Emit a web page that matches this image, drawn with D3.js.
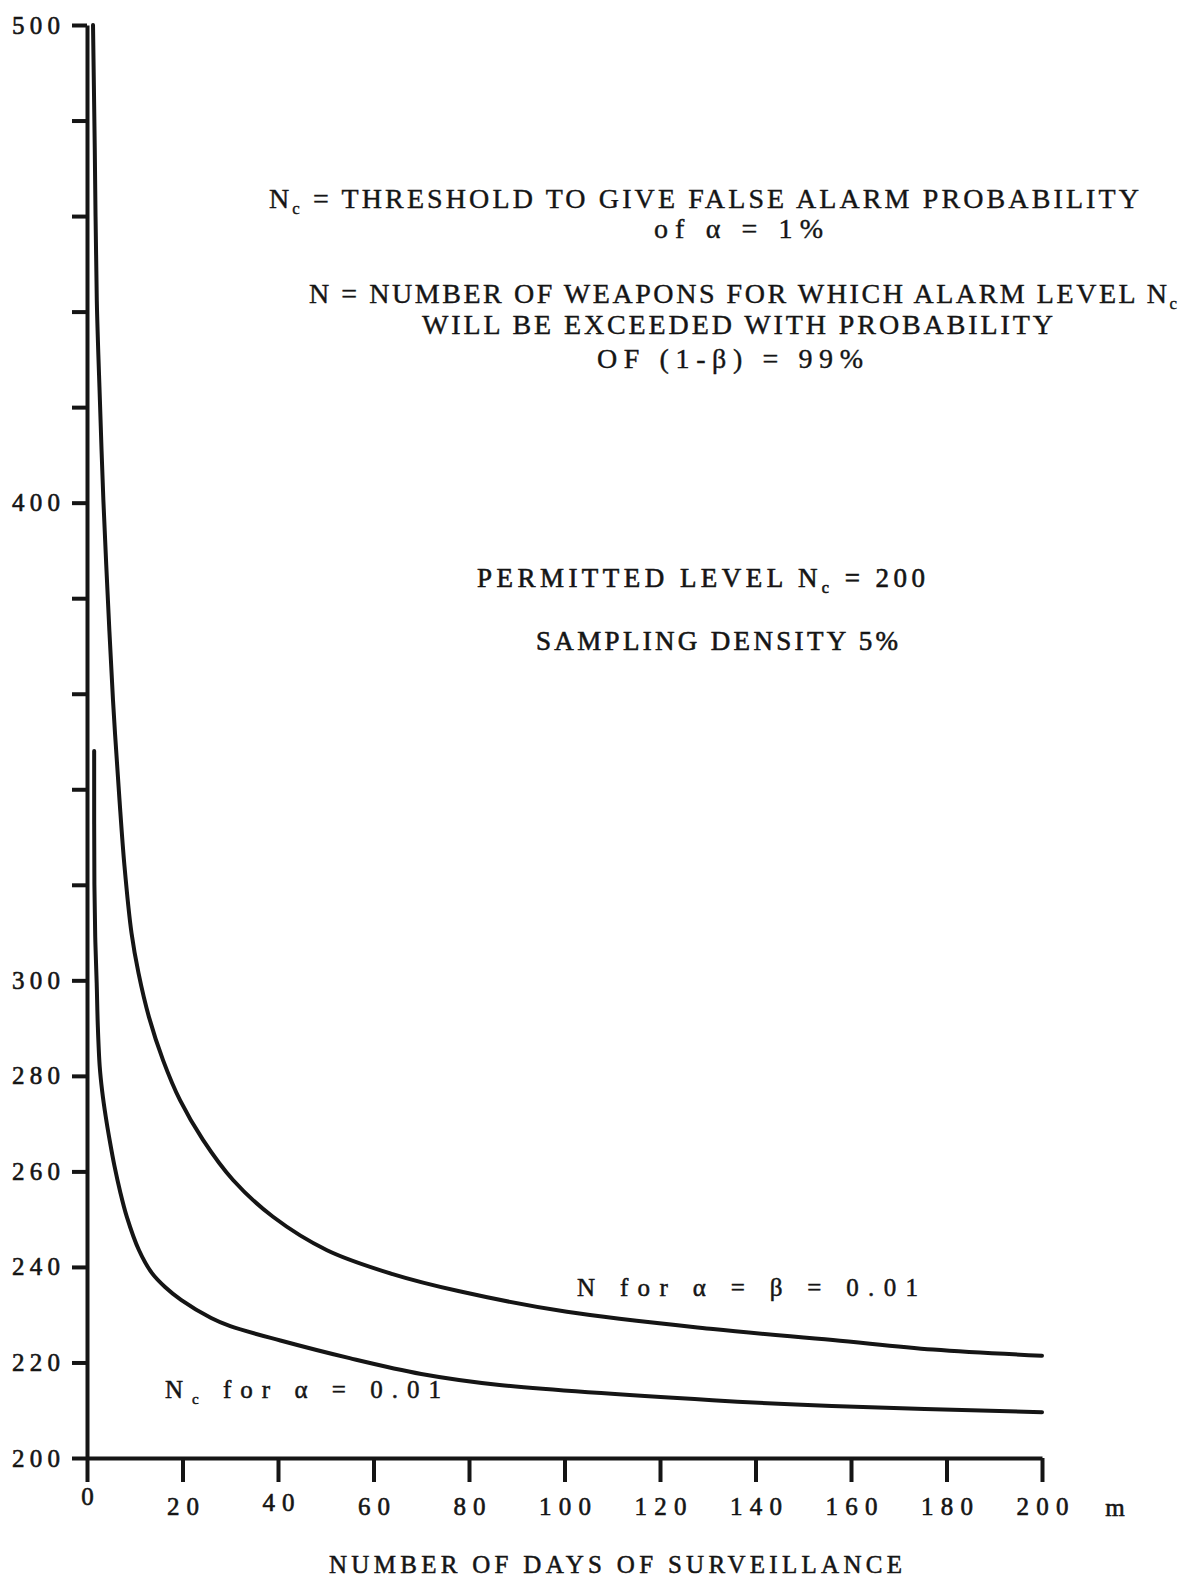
<!DOCTYPE html>
<html>
<head>
<meta charset="utf-8">
<script src="https://cdn.jsdelivr.net/npm/d3@7"></script>
<style>
  body { margin: 0; background: #fff; }
  svg { display: block; }
  text { font-family: "Liberation Serif", "DejaVu Serif", serif; fill: #151515; }
</style>
</head>
<body>
<div id="chart"></div>
<script>
// m = number of days of surveillance
// N curve: alpha = beta = 0.01
var mDaysN = [1.26, 1.63, 2.05, 2.7, 3.43, 4.38, 5.44, 6.81, 7.85, 9.32, 10.79, 12.98, 15.92, 19.48, 24.29, 30.58, 38.95, 50.26, 64, 78, 100.5, 131.1, 156.2, 177.2, 200];
var nWeapons = [500, 473.8, 442.4, 421.5, 400.5, 379.6, 358.7, 337.7, 323.9, 309.9, 301.5, 292.3, 283.3, 274.9, 266.6, 258.2, 250.5, 243.5, 238.5, 234.9, 230.6, 227, 224.7, 222.7, 221.4];

// Nc curve: alpha = 0.01
var mDaysNc = [1.5, 1.55, 1.75, 2.03, 2.26, 2.66, 3.18, 3.92, 4.77, 5.76, 6.91, 8.31, 10.89, 13.61, 16.34, 19.69, 26, 30, 40.5, 55, 70, 86.4, 131, 156, 200];
var ncThreshold = [348, 320, 308, 299.4, 290.6, 282, 276.8, 271.5, 266.4, 261.1, 255.9, 250.6, 243.5, 238.7, 235.8, 233.1, 229.3, 227.6, 224.6, 220.9, 217.6, 215.3, 212.1, 210.9, 209.6];

var xTickValues = [0, 20, 40, 60, 80, 100, 120, 140, 160, 180, 200];
var yTickValues = [200, 220, 240, 260, 280, 300, 320, 340, 360, 380, 400, 420, 440, 460, 480, 500];
var yTickLabels = [200, 220, 240, 260, 280, 300, 400, 500];

var ink = "#151515";
var width = 1183, height = 1577;

var svg = d3.select("#chart").append("svg")
  .attr("width", width)
  .attr("height", height);

var x = d3.scaleLinear().domain([0, 200]).range([87, 1042]);
var y = d3.scaleLinear().domain([200, 500]).range([1458, 25]);

// Y axis
var yAxis = d3.axisLeft(y)
  .tickValues(yTickValues)
  .tickSize(15)
  .tickSizeOuter(0)
  .tickPadding(12)
  .tickFormat(d => yTickLabels.includes(d) ? d : "");

var gy = svg.append("g")
  .attr("transform", `translate(${x(0)},0)`)
  .call(yAxis)
  .attr("font-family", null)
  .attr("font-size", null);

gy.select(".domain").attr("stroke", ink).attr("stroke-width", 4);
gy.selectAll(".tick line").attr("stroke", ink).attr("stroke-width", 4);
gy.selectAll(".tick text")
  .attr("font-size", 25)
  .attr("stroke", ink)
  .attr("stroke-width", 0.6)
  .attr("textLength", d => yTickLabels.includes(d) ? 48 : null)
  .attr("lengthAdjust", "spacing");

// X axis
var xAxis = d3.axisBottom(x)
  .tickValues(xTickValues)
  .tickSize(24)
  .tickSizeOuter(0);

var gx = svg.append("g")
  .attr("transform", `translate(0,${y(200)})`)
  .call(xAxis)
  .attr("font-family", null)
  .attr("font-size", null);

gx.select(".domain").attr("stroke", ink).attr("stroke-width", 4);
gx.selectAll(".tick line").attr("stroke", ink).attr("stroke-width", 4);

// typewriter baseline wobble on a couple of labels
var raise = { 0: 10, 40: 4 };
gx.selectAll(".tick text")
  .attr("font-size", 25)
  .attr("stroke", ink)
  .attr("stroke-width", 0.6)
  .attr("dy", null)
  .attr("y", d => 57 - (raise[d] || 0))
  .attr("textLength", d => d >= 100 ? 52 : (d > 0 ? 32 : null))
  .attr("lengthAdjust", "spacing");

svg.append("text")
  .attr("x", 1115)
  .attr("y", 1516)
  .attr("text-anchor", "middle")
  .attr("font-size", 25)
  .attr("stroke", ink)
  .attr("stroke-width", 0.6)
  .text("m");

// Curves (centripetal Catmull-Rom keeps the near-vertical part smooth)
var line = d3.line()
  .x(d => x(d[0]))
  .y(d => y(d[1]))
  .curve(d3.curveCatmullRom.alpha(0.5));

svg.append("path")
  .datum(d3.zip(mDaysN, nWeapons))
  .attr("fill", "none")
  .attr("stroke", ink)
  .attr("stroke-width", 4)
  .attr("stroke-linecap", "round")
  .attr("d", line);

svg.append("path")
  .datum(d3.zip(mDaysNc, ncThreshold))
  .attr("fill", "none")
  .attr("stroke", ink)
  .attr("stroke-width", 4)
  .attr("stroke-linecap", "round")
  .attr("d", line);

// Text annotations: parts is a list of [text, isSubscript]
function label(parts, px, py, len, size, weight) {
  var t = svg.append("text")
    .attr("x", px)
    .attr("y", py)
    .attr("font-size", size)
    .attr("textLength", len)
    .attr("lengthAdjust", "spacing")
    .attr("stroke", ink)
    .attr("stroke-width", weight)
    .attr("xml:space", "preserve");
  var down = false;
  parts.forEach(p => {
    var s = t.append("tspan").text(p[0]);
    if (p[1]) {
      s.attr("font-size", size * 0.6).attr("dy", 6);
      down = true;
    } else if (down) {
      s.attr("dy", -6);
      down = false;
    }
  });
  return t;
}

label([["N"], ["c", true], [" = THRESHOLD TO GIVE FALSE ALARM PROBABILITY"]], 269, 208, 870, 28, 0.4);
label([["of α = 1%"]], 654, 238, 169, 28, 0.4);
label([["N = NUMBER OF WEAPONS FOR WHICH ALARM LEVEL N"], ["c", true]], 309, 303, 868, 28, 0.4);
label([["WILL BE EXCEEDED WITH PROBABILITY"]], 422, 334, 631, 28, 0.4);
label([["OF (1-β) = 99%"]], 597, 368, 266, 28, 0.4);

label([["PERMITTED LEVEL N"], ["c", true], [" = 200"]], 477, 587, 448, 27, 0.6);
label([["SAMPLING DENSITY 5%"]], 536, 650, 362, 27, 0.6);

label([["N for α = β = 0.01"]], 577, 1296, 341, 25, 0.5);
label([["N"], ["c", true], [" for α = 0.01"]], 165, 1398, 276, 25, 0.5);

label([["NUMBER OF DAYS OF SURVEILLANCE"]], 329, 1573, 573, 25, 0.5);
</script>
</body>
</html>
